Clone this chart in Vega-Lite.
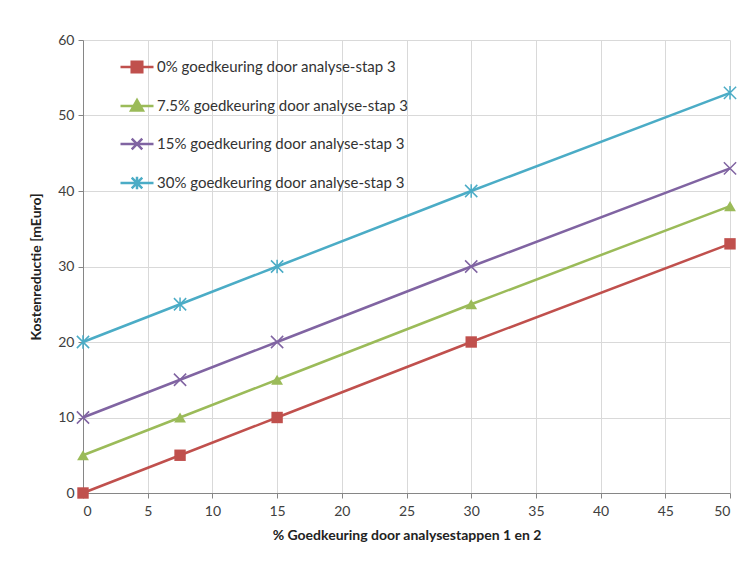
{
  "$schema": "https://vega.github.io/schema/vega-lite/v6.json",
  "width": 647,
  "height": 453,
  "autosize": {"type": "none"},
  "padding": {"left": 83, "top": 40, "right": 17, "bottom": 70},
  "background": "white",
  "config": {
    "font": "Lato",
    "view": {"stroke": null},
    "axis": {
      "gridColor": "#D9D9D9",
      "gridWidth": 1,
      "domainColor": "#868686",
      "tickColor": "#868686",
      "tickSize": 5,
      "labelFont": "Lato",
      "labelFontSize": 14,
      "labelColor": "#404040",
      "titleFont": "Lato",
      "titleFontSize": 14,
      "titleFontWeight": "bold",
      "titleColor": "#222222"
    }
  },
  "data": {
    "values": [
      {"x": 0, "y": 0, "series": "0% goedkeuring door analyse-stap 3"},
      {"x": 7.5, "y": 5, "series": "0% goedkeuring door analyse-stap 3"},
      {"x": 15, "y": 10, "series": "0% goedkeuring door analyse-stap 3"},
      {"x": 30, "y": 20, "series": "0% goedkeuring door analyse-stap 3"},
      {"x": 50, "y": 33, "series": "0% goedkeuring door analyse-stap 3"},
      {"x": 0, "y": 5, "series": "7.5% goedkeuring door analyse-stap 3"},
      {"x": 7.5, "y": 10, "series": "7.5% goedkeuring door analyse-stap 3"},
      {"x": 15, "y": 15, "series": "7.5% goedkeuring door analyse-stap 3"},
      {"x": 30, "y": 25, "series": "7.5% goedkeuring door analyse-stap 3"},
      {"x": 50, "y": 38, "series": "7.5% goedkeuring door analyse-stap 3"},
      {"x": 0, "y": 10, "series": "15% goedkeuring door analyse-stap 3"},
      {"x": 7.5, "y": 15, "series": "15% goedkeuring door analyse-stap 3"},
      {"x": 15, "y": 20, "series": "15% goedkeuring door analyse-stap 3"},
      {"x": 30, "y": 30, "series": "15% goedkeuring door analyse-stap 3"},
      {"x": 50, "y": 43, "series": "15% goedkeuring door analyse-stap 3"},
      {"x": 0, "y": 20, "series": "30% goedkeuring door analyse-stap 3"},
      {"x": 7.5, "y": 25, "series": "30% goedkeuring door analyse-stap 3"},
      {"x": 15, "y": 30, "series": "30% goedkeuring door analyse-stap 3"},
      {"x": 30, "y": 40, "series": "30% goedkeuring door analyse-stap 3"},
      {"x": 50, "y": 53, "series": "30% goedkeuring door analyse-stap 3"}
    ]
  },
  "encoding": {
    "x": {
      "field": "x", "type": "quantitative",
      "scale": {"domain": [0, 50], "nice": false},
      "axis": {"values": [0,5,10,15,20,25,30,35,40,45,50], "title": "% Goedkeuring door analysestappen 1 en 2", "titlePadding": 10, "labelPadding": 6}
    },
    "y": {
      "field": "y", "type": "quantitative",
      "scale": {"domain": [0, 60], "nice": false},
      "axis": {"values": [0,10,20,30,40,50,60], "title": "Kostenreductie [mEuro]", "titlePadding": 14, "labelPadding": 4}
    },
    "color": {
      "field": "series", "type": "nominal",
      "scale": {
        "domain": ["0% goedkeuring door analyse-stap 3", "7.5% goedkeuring door analyse-stap 3", "15% goedkeuring door analyse-stap 3", "30% goedkeuring door analyse-stap 3"],
        "range": ["#C0504D", "#9BBB59", "#8064A2", "#4BACC6"]
      },
      "legend": {
        "title": null,
        "orient": "none",
        "legendX": 36,
        "legendY": 9,
        "symbolType": "stroke",
        "symbolSize": 1089,
        "symbolStrokeWidth": 2.5,
        "rowPadding": 10,
        "labelFontSize": 15,
        "labelColor": "#333333",
        "labelOffset": 2,
        "labelLimit": 400,
        "encode": {
          "symbols": {
            "update": {
              "shape": {"signal": "datum.value == '0% goedkeuring door analyse-stap 3' ? 'M-1,0H1M-0.32,-0.32H0.32V0.32H-0.32Z' : datum.value == '7.5% goedkeuring door analyse-stap 3' ? 'M-1,0H1M-0.36,0.28L0,-0.36L0.36,0.28Z' : datum.value == '15% goedkeuring door analyse-stap 3' ? 'M-1,0H1M-0.32,-0.32L0.32,0.32M-0.32,0.32L0.32,-0.32' : 'M-1,0H1M-0.32,-0.32L0.32,0.32M-0.32,0.32L0.32,-0.32M0,-0.38L0,0.38'"},
              "fill": {"signal": "scale('color', datum.value)"},
              "stroke": {"signal": "scale('color', datum.value)"},
              "strokeWidth": {"value": 2.5},
              "size": {"value": 1089}
            }
          }
        }
      }
    }
  },
  "layer": [
    {"mark": {"type": "line", "strokeWidth": 2.5}},
    {
      "transform": [{"filter": "datum.series == '0% goedkeuring door analyse-stap 3'"}],
      "mark": {"type": "point", "shape": "square", "filled": true, "opacity": 1, "size": 130}
    },
    {
      "transform": [{"filter": "datum.series == '7.5% goedkeuring door analyse-stap 3'"}],
      "mark": {"type": "point", "shape": "triangle-up", "filled": true, "opacity": 1, "size": 140}
    },
    {
      "transform": [{"filter": "datum.series == '15% goedkeuring door analyse-stap 3'"}],
      "mark": {"type": "point", "shape": "M-1,-1L1,1M-1,1L1,-1", "filled": false, "opacity": 1, "size": 150, "strokeWidth": 1.5}
    },
    {
      "transform": [{"filter": "datum.series == '30% goedkeuring door analyse-stap 3'"}],
      "mark": {"type": "point", "shape": "M-1,-1L1,1M-1,1L1,-1M0,-1.1L0,1.1", "filled": false, "opacity": 1, "size": 150, "strokeWidth": 1.5}
    }
  ]
}
